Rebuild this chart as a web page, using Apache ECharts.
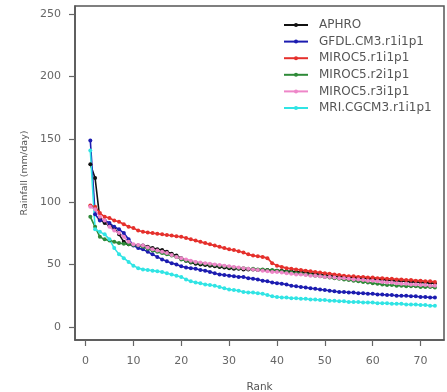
<!DOCTYPE html>
<html>
<head>
<meta charset="utf-8">
<script src="https://cdn.jsdelivr.net/npm/echarts@6/dist/echarts.min.js"></script>
<style>
  html, body { margin: 0; padding: 0; background: #fff; }
  #chart { width: 447px; height: 392px; }
</style>
</head>
<body>
<div id="chart"></div>
<script>
// rank 1..73 on the x axis
const ranks = Array.from({ length: 73 }, (_, i) => i + 1);

const aphro = [130, 119, 86, 83, 81, 79, 74, 68, 66, 65.5, 65, 65, 64, 63, 62, 61.5, 60, 58.5, 57, 55,
  53, 51.5, 50.5, 50, 49.5, 49, 48.5, 48, 47.5, 47, 46.5, 46.5, 46, 46, 46, 45.5, 45.5, 45.5, 45, 45,
  45, 44.5, 44.5, 44, 44, 43.5, 43, 42.5, 42, 41.5, 41, 40.5, 40, 40, 39.5, 39.5, 39, 39, 38.5, 38.5,
  38, 38, 37.5, 37, 37, 36.5, 36.5, 36, 36, 35.5, 35.5, 35, 35];

const gfdl = [149, 90, 85, 85, 83, 80, 78, 75, 70, 65, 63, 62, 60, 58, 56, 54, 52.5, 51, 50, 48.5,
  47.5, 47, 46.5, 45.5, 45, 44, 43, 42, 41.5, 41, 40.5, 40, 40, 39, 38.5, 38, 37, 36.5, 35.5, 35,
  34.5, 34, 33, 32.5, 32, 31.5, 31, 30.5, 30, 29.5, 29, 28.5, 28, 28, 27.5, 27.5, 27, 27, 26.5, 26.5,
  26, 26, 25.5, 25.5, 25, 25, 25, 24.5, 24.5, 24, 24, 23.5, 23.5];

const miroc5r1 = [97, 96, 91, 88, 87, 85, 84, 82, 80, 79, 77, 76, 75.5, 75, 74.5, 74, 73.5, 73, 72.5, 72,
  71, 70, 69, 68, 67, 66, 65, 64, 63, 62, 61.5, 60.5, 59.5, 58, 57, 56.5, 56, 55, 51, 49,
  48, 47, 46.5, 46, 45.5, 45, 44.5, 44, 43.5, 43, 42.5, 42, 41.5, 41, 40.5, 40.5, 40, 40, 39.5, 39.5,
  39, 39, 38.5, 38.5, 38, 38, 37.5, 37.5, 37, 37, 36.5, 36.5, 36];

const miroc5r2 = [88, 80, 72, 70, 69, 68, 67, 66.5, 66, 65.5, 65, 64, 62.5, 61, 60, 59, 58, 57, 56, 54,
  53, 52, 51.5, 51, 50.5, 50, 49.5, 49, 48.5, 48, 47.5, 47, 47, 46.5, 46.5, 46, 46, 45.5, 45.5, 45,
  44.5, 44, 43.5, 43, 42.5, 42, 41.5, 41, 40.5, 40, 39.5, 39, 38.5, 38, 37.5, 37, 36.5, 36, 35.5, 35,
  34.5, 34, 33.5, 33.5, 33, 33, 32.5, 32.5, 32.5, 32, 32, 32, 31.5];

const miroc5r3 = [96, 94, 88, 85, 80, 77, 75, 72, 68, 66, 65.5, 65, 63.5, 62, 61, 60, 59, 57.5, 56, 55,
  54, 53, 52, 51.5, 51, 50.5, 50, 49.5, 49, 48.5, 48, 47.5, 47, 46.5, 46, 45.5, 45, 44.5, 44, 44,
  43.5, 43, 42.5, 42, 42, 41.5, 41, 41, 40.5, 40, 40, 39.5, 39, 39, 38.5, 38, 38, 37.5, 37, 37,
  36.5, 36, 35.5, 35.5, 35, 34.5, 34.5, 34, 34, 33.5, 33.5, 33, 33];

const mri = [141, 78, 76, 74, 70, 63, 58, 55, 52, 49, 47, 46, 45.5, 45, 44.5, 44, 43, 42, 41, 40,
  38, 36.5, 35.5, 35, 34, 33.5, 33, 32, 31, 30, 29.5, 29, 28, 27.5, 27.5, 27, 26.5, 25.5, 24.5, 24,
  23.5, 23.5, 23, 23, 22.5, 22.5, 22, 22, 21.5, 21.5, 21, 21, 20.5, 20.5, 20, 20, 20, 19.5, 19.5, 19.5,
  19, 19, 19, 18.5, 18.5, 18.5, 18, 18, 18, 17.5, 17.5, 17, 17];

const seriesNames = ['APHRO', 'GFDL.CM3.r1i1p1', 'MIROC5.r1i1p1', 'MIROC5.r2i1p1', 'MIROC5.r3i1p1', 'MRI.CGCM3.r1i1p1'];
const seriesData = [aphro, gfdl, miroc5r1, miroc5r2, miroc5r3, mri];
const seriesColors = ['#111111', '#1c1cb0', '#e5302c', '#2e8a38', '#ee86c8', '#30e4e4'];

const xTicks = [0, 10, 20, 30, 40, 50, 60, 70];
const yTicks = [0, 50, 100, 150, 200, 250];

const FONT = 'DejaVu Sans';

const option = {
  animation: false,
  backgroundColor: '#fff',
  grid: {
    left: 75,
    right: 3,
    top: 6,
    bottom: 52,
    outerBoundsMode: 'none',
    containLabel: false,
    show: true,
    borderColor: '#555',
    borderWidth: 1.5
  },
  legend: {
    orient: 'vertical',
    left: 278,
    top: 14,
    itemWidth: 24,
    itemHeight: 5,
    itemGap: 4.6,
    data: seriesNames,
    textStyle: {
      fontFamily: FONT,
      fontSize: 12,
      color: '#555',
      lineHeight: 12,
      padding: [0, 0, 0, 6]
    }
  },
  xAxis: {
    type: 'value',
    min: -2.2,
    max: 74.9,
    name: 'Rank',
    nameLocation: 'middle',
    nameGap: 47,
    nameTextStyle: { fontFamily: FONT, fontSize: 10.5, color: '#555', verticalAlign: 'middle' },
    axisLine: { show: true, onZero: false, lineStyle: { color: '#555', width: 1.5 } },
    axisTick: { show: true, length: 6, customValues: xTicks, lineStyle: { color: '#666', width: 1.2 } },
    axisLabel: { customValues: xTicks, margin: 16, fontFamily: FONT, fontSize: 11, color: '#666' },
    splitLine: { show: false }
  },
  yAxis: {
    type: 'value',
    min: -10.4,
    max: 256.4,
    name: 'Rainfall (mm/day)',
    nameLocation: 'middle',
    nameGap: 44,
    nameTextStyle: { fontFamily: FONT, fontSize: 9.5, color: '#555' },
    axisLine: { show: true, onZero: false, lineStyle: { color: '#555', width: 1.5 } },
    axisTick: { show: true, length: 6, customValues: yTicks, lineStyle: { color: '#666', width: 1.2 } },
    axisLabel: { customValues: yTicks, margin: 14, fontFamily: FONT, fontSize: 11, color: '#666' },
    splitLine: { show: false }
  },
  series: seriesData.map((vals, k) => ({
    name: seriesNames[k],
    type: 'line',
    data: vals.map((v, i) => [ranks[i], v]),
    symbol: 'circle',
    symbolSize: 4,
    showSymbol: true,
    color: seriesColors[k],
    lineStyle: { width: 1.6, color: seriesColors[k] },
    itemStyle: { color: seriesColors[k] },
    z: 2
  }))
};

const chart = echarts.init(document.getElementById('chart'));
chart.setOption(option);
</script>
</body>
</html>
